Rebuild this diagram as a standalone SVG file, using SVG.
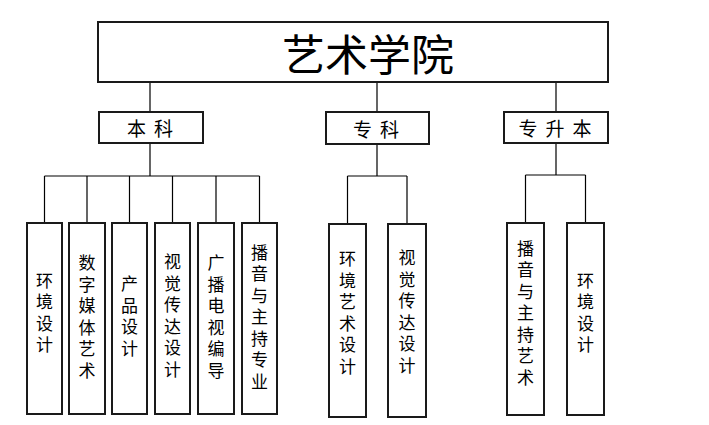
<svg xmlns="http://www.w3.org/2000/svg" width="709" height="425" viewBox="0 0 709 425">
<style>
.box{fill:#fff;stroke:#1a1a1a;stroke-width:2}
.ln{stroke:#000;stroke-width:1.2;fill:none}
text{font-family:"Noto Sans CJK SC","Noto Sans CJK JP",sans-serif;fill:#000;text-anchor:middle;dominant-baseline:central}
.t{font-size:43px}
.m{font-size:19px;letter-spacing:8px}
.v text{font-size:17px;font-family:"Liberation Sans","Noto Sans CJK SC","Noto Sans CJK JP",sans-serif}
</style>
<rect width="709" height="425" fill="#fff"/>
<g id="connectors">
<path class="ln" d="M150 82V112M377 82V112M556 82V112"/>
<path class="ln" d="M150 143V176M44.5 176H259.5M44.5 176V223M87 176V223M129.5 176V223M172.5 176V223M216 176V223M259.5 176V223"/>
<path class="ln" d="M377 144V176M347.5 176H407M347.5 176V224M407 176V224"/>
<path class="ln" d="M556 143V175M525.5 175H585.5M525.5 175V223M585.5 175V223"/>
</g>
<g id="root"><rect class="box" x="98" y="22" width="510" height="60"/><text class="t" x="368" y="52">艺术学院</text></g>
<g id="benke"><rect class="box" x="99" y="112" width="104" height="31"/><text class="m" x="154" y="127.5">本科</text></g>
<g id="zhuanke"><rect class="box" x="326" y="112" width="103" height="32"/><text class="m" x="380" y="128">专科</text></g>
<g id="zhuanshengben"><rect class="box" x="504" y="112" width="104" height="31"/><text class="m" x="559" y="127.5">专升本</text></g>

<g id="b1"><rect class="box" x="27" y="223" width="35" height="191"/><g class="v"><text x="44.5" y="281.25">环</text><text x="44.5" y="302.75">境</text><text x="44.5" y="324.25">设</text><text x="44.5" y="345.75">计</text></g></g>
<g id="b2"><rect class="box" x="69" y="223" width="36" height="191"/><g class="v"><text x="87" y="263.75">数</text><text x="87" y="285.25">字</text><text x="87" y="306.75">媒</text><text x="87" y="328.25">体</text><text x="87" y="349.75">艺</text><text x="87" y="371.25">术</text></g></g>
<g id="b3"><rect class="box" x="112" y="223" width="35" height="191"/><g class="v"><text x="129.5" y="284.75">产</text><text x="129.5" y="306.25">品</text><text x="129.5" y="327.75">设</text><text x="129.5" y="349.25">计</text></g></g>
<g id="b4"><rect class="box" x="155" y="223" width="35" height="191"/><g class="v"><text x="172.5" y="262.75">视</text><text x="172.5" y="284.25">觉</text><text x="172.5" y="305.75">传</text><text x="172.5" y="327.25">达</text><text x="172.5" y="348.75">设</text><text x="172.5" y="370.25">计</text></g></g>
<g id="b5"><rect class="box" x="198" y="223" width="36" height="191"/><g class="v"><text x="216" y="263.75">广</text><text x="216" y="285.25">播</text><text x="216" y="306.75">电</text><text x="216" y="328.25">视</text><text x="216" y="349.75">编</text><text x="216" y="371.25">导</text></g></g>
<g id="b6"><rect class="box" x="242" y="223" width="35" height="191"/><g class="v"><text x="259.5" y="253">播</text><text x="259.5" y="274.5">音</text><text x="259.5" y="296">与</text><text x="259.5" y="317.5">主</text><text x="259.5" y="339">持</text><text x="259.5" y="360.5">专</text><text x="259.5" y="382">业</text></g></g>

<g id="z1"><rect class="box" x="329" y="224" width="37" height="193"/><g class="v"><text x="347.5" y="259.75">环</text><text x="347.5" y="281.25">境</text><text x="347.5" y="302.75">艺</text><text x="347.5" y="324.25">术</text><text x="347.5" y="345.75">设</text><text x="347.5" y="367.25">计</text></g></g>
<g id="z2"><rect class="box" x="388" y="224" width="38" height="193"/><g class="v"><text x="407" y="258.75">视</text><text x="407" y="280.25">觉</text><text x="407" y="301.75">传</text><text x="407" y="323.25">达</text><text x="407" y="344.75">设</text><text x="407" y="366.25">计</text></g></g>

<g id="s1"><rect class="box" x="507" y="223" width="37" height="192"/><g class="v"><text x="525.5" y="249">播</text><text x="525.5" y="270.5">音</text><text x="525.5" y="292">与</text><text x="525.5" y="313.5">主</text><text x="525.5" y="335">持</text><text x="525.5" y="356.5">艺</text><text x="525.5" y="378">术</text></g></g>
<g id="s2"><rect class="box" x="567" y="223" width="37" height="192"/><g class="v"><text x="585.5" y="281.25">环</text><text x="585.5" y="302.75">境</text><text x="585.5" y="324.25">设</text><text x="585.5" y="345.75">计</text></g></g>
</svg>
